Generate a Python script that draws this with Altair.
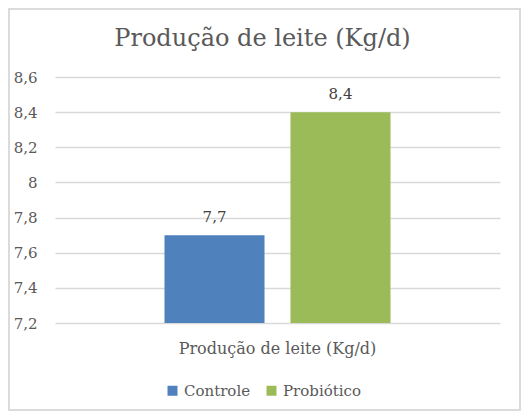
import pandas as pd
import altair as alt

# dados do gráfico
grupo = ["Produção de leite (Kg/d)", "Produção de leite (Kg/d)"]
tratamentos = ["Controle", "Probiótico"]
valores = [7.7, 8.4]
cores = ["#4F81BD", "#9BBB59"]
ticks_y = [7.2, 7.4, 7.6, 7.8, 8.0, 8.2, 8.4, 8.6]

source = pd.DataFrame({"grupo": grupo, "tratamento": tratamentos, "valor": valores})

fonte = "DejaVu Serif"
cinza = "#595959"

# codificação comum (mesmos eixos nas duas camadas)
base = alt.Chart(source).transform_calculate(
    rotulo="replace(format(datum.valor, '.1f'), '.', ',')"
).encode(
    x=alt.X("grupo:N", title=None,
            scale=alt.Scale(paddingInner=0, paddingOuter=0.383),
            axis=alt.Axis(labelAngle=0, labelFontSize=16, labelColor=cinza,
                          labelFont=fonte, labelPadding=17, labelLimit=400,
                          ticks=False, domain=False, grid=False)),
    xOffset=alt.XOffset("tratamento:N",
                        scale=alt.Scale(paddingInner=0.206, paddingOuter=0.103)),
    y=alt.Y("valor:Q", title=None,
            scale=alt.Scale(domain=[7.2, 8.6], zero=False, nice=False),
            axis=alt.Axis(values=ticks_y,
                          labelExpr="replace(format(datum.value, '.2~f'), '.', ',')",
                          labelFontSize=15, labelColor=cinza, labelFont=fonte,
                          labelPadding=18, labelOverlap=False, ticks=False,
                          domain=False, gridColor="#d9d9d9", gridWidth=1.5)),
)

barras = base.mark_bar().encode(
    y2=alt.Y2Datum(7.2),
    color=alt.Color("tratamento:N", title=None,
                    scale=alt.Scale(domain=tratamentos, range=cores),
                    legend=alt.Legend(orient="none", legendX=110, legendY=306,
                                      direction="horizontal",
                                      symbolType="square", symbolSize=100,
                                      symbolStrokeWidth=0, labelFontSize=15,
                                      labelColor=cinza, labelFont=fonte,
                                      columnPadding=13)),
)

textos = base.mark_text(baseline="bottom", dy=-10, fontSize=15,
                        font=fonte, color="#404040").encode(text="rotulo:N")

borda = alt.Chart(source).mark_rect(fill=None, stroke="#d9d9d9",
                                    strokeWidth=1.5).encode(
    x=alt.value(-46), x2=alt.value(465), y=alt.value(-68), y2=alt.value(333)
)

chart = (borda + barras + textos).properties(
    width=445,
    height=246,
    title=alt.TitleParams("Produção de leite (Kg/d)", fontSize=24,
                          font=fonte, color=cinza, fontWeight="normal",
                          anchor="middle", frame="group", offset=-43, dx=-15),
    autosize=alt.AutoSizeParams(type="none"),
    padding={"left": 47, "top": 69, "right": 21, "bottom": 88},
).configure_view(stroke=None)

chart.save("out.html", embed_options={"renderer": "svg", "actions": False})
